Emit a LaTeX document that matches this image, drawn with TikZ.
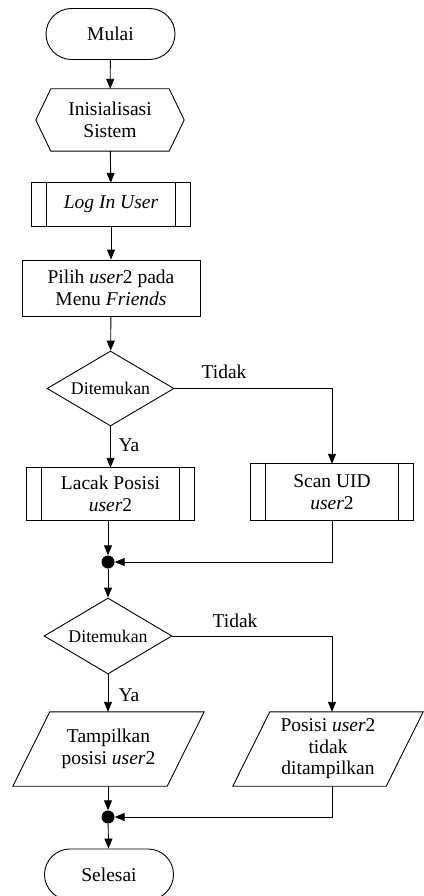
\documentclass[tikz,border=0pt]{standalone}
\usepackage{fontspec}
\setmainfont{Liberation Serif}
\usetikzlibrary{arrows.meta,shapes.misc,shapes.geometric}
\tikzset{
  base/.style={inner sep=0pt,align=center,font=\fontsize{19.5}{21.5}\selectfont},
  term/.style={base,draw,rounded rectangle,minimum width=129pt,minimum height=51pt,line width=0.9pt},
  boxnode/.style={base,draw,rectangle,line width=0.9pt},
  plain/.style={base,draw=none,rectangle},
  decis/.style={base,draw,diamond,aspect=1.69,inner sep=0pt,line width=0.9pt,font=\fontsize{17.8}{20}\selectfont},
  lbl/.style={base},
  conn/.style={line width=0.9pt,-{Triangle[length=10pt,width=8pt]}},
  line/.style={line width=0.9pt},
  dot/.style={circle,fill=black,inner sep=0pt,minimum size=13pt}
}
\newcommand{\mypredef}[2]{%
  \draw[line width=0.9pt] (#1.north west) rectangle (#1.south east);
  \draw[line width=0.9pt] ([xshift=#2]#1.north west) -- ([xshift=#2]#1.south west);
  \draw[line width=0.9pt] ([xshift=-#2]#1.north east) -- ([xshift=-#2]#1.south east);}
\newcommand{\myslant}[2]{%
  \draw[line width=0.9pt] ([xshift=#2]#1.north west) -- (#1.north east) -- ([xshift=-#2]#1.south east) -- (#1.south west) -- cycle;}
\begin{document}
\begin{tikzpicture}[x=1pt,y=-1pt]
\useasboundingbox (0,0) rectangle (423,896);
\node[term] (mulai) at (110.5,34) {Mulai};
\node[plain,minimum width=148pt,minimum height=62pt] (init) at (110,120) {Inisialisasi\\Sistem};
\draw[line width=0.9pt] ([xshift=15pt]init.north west) -- ([xshift=-15pt]init.north east) -- (init.east) -- ([xshift=-15pt]init.south east) -- ([xshift=15pt]init.south west) -- (init.west) -- cycle;
\node[plain,minimum width=158pt,minimum height=43pt] (login) at (111,204.5) {\textit{Log In User}};
\mypredef{login}{15pt}
\node[boxnode,minimum width=178pt,minimum height=56pt] (pilih) at (111,288) {Pilih \textit{user}2 pada\\Menu \textit{Friends}};
\node[decis,minimum width=127pt,minimum height=75pt] (d1) at (110.5,388.5) {Ditemukan};
\node[plain,minimum width=167pt,minimum height=52pt] (lacak) at (110.5,494) {Lacak Posisi\\\textit{user}2};
\mypredef{lacak}{15pt}
\node[plain,minimum width=162pt,minimum height=56pt] (scan) at (332,492) {Scan UID\\\textit{user}2};
\mypredef{scan}{15pt}
\node[dot] (j1) at (108,562) {};
\node[decis,minimum width=128pt,minimum height=76pt] (d2) at (108,636) {Ditemukan};
\node[plain,minimum width=191pt,minimum height=74pt] (tampil) at (108.5,749) {Tampilkan\\posisi \textit{user}2};
\myslant{tampil}{37pt}
\node[plain,minimum width=190pt,minimum height=74pt] (posisi) at (328,749) {Posisi \textit{user}2\\tidak\\ditampilkan};
\myslant{posisi}{37pt}
\node[dot] (j2) at (108,817) {};
\node[term] (selesai) at (109,874.5) {Selesai};
\node[lbl] (t1) at (224,372) {Tidak};
\node[lbl] (y1) at (129,445) {Ya};
\node[lbl] (t2) at (235,621) {Tidak};
\node[lbl] (y2) at (129,695) {Ya};
\coordinate (c1) at (332,388.5);
\coordinate (c2) at (332,562);
\coordinate (c3) at (332,636);
\coordinate (c4) at (332,817);
\draw[conn] (mulai) -- (init);
\draw[conn] (init) -- (login);
\draw[conn] (login) -- (pilih);
\draw[conn] (pilih) -- (d1);
\draw[conn] (d1.south) -- (d1.south |- lacak.north);
\draw[conn] (d1.east) -- (c1) -- (scan.north);
\draw[conn] (lacak.south -| j1) -- (j1);
\draw[conn] (scan.south) -- (c2) -- (j1);
\draw[conn] (j1) -- (d2);
\draw[conn] (d2.south) -- (d2.south |- tampil.north);
\draw[conn] (d2.east) -- (c3) -- (c3 |- posisi.north);
\draw[conn] (tampil.south -| j2) -- (j2);
\draw[conn] (c3 |- posisi.south) -- (c4) -- (j2);
\draw[conn] (j2) -- (selesai);
\end{tikzpicture}
\end{document}
